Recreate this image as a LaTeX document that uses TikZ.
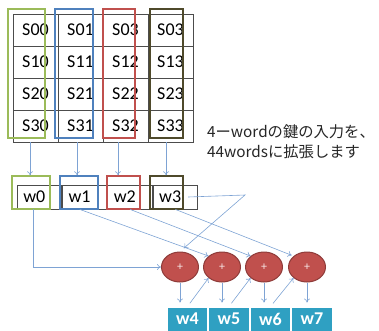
\documentclass[tikz,border=0pt]{standalone}
\usepackage{fontspec}
\usepackage{tikz}
\usetikzlibrary{matrix}
\usetikzlibrary{arrows.meta}
\usetikzlibrary{shapes.geometric}
\usetikzlibrary{positioning}
\newfontfamily\calfont{Carlito}
\newfontfamily\jpfont{Noto Sans CJK JP}
\definecolor{kgreen}{HTML}{9BBB59}
\definecolor{kblue}{HTML}{4F81BD}
\definecolor{kred}{HTML}{C0504D}
\definecolor{kolive}{HTML}{4F4A2B}
\definecolor{klink}{HTML}{7EA3D4}
\definecolor{kteal}{HTML}{2FA0C2}
\definecolor{kdark}{HTML}{8E3B39}

\begin{document}
\begin{tikzpicture}[x=1pt,y=-1pt,
			every node/.style={font=\calfont\fontsize{18}{18}\selectfont},
			colframe/.style={draw=#1,line width=1.5pt,minimum height=129pt,inner sep=0pt},
			wcell/.style={draw=black!70,line width=0.8pt,minimum height=24pt,text width=32.5pt,inner xsep=6pt,inner ysep=0pt,align=left},
			wframe/.style={draw=#1,line width=1.5pt,minimum height=33pt,inner sep=0pt},
			adder/.style={ellipse,draw=kdark,line width=1pt,fill=kred,minimum width=37pt,minimum height=30pt,inner sep=0pt,text=white!85!kred,font=\calfont\fontsize{12}{12}\selectfont},
			outcell/.style={draw=white,line width=1pt,fill=kteal,minimum width=40.5pt,minimum height=24pt,inner sep=0pt,text=white,font=\calfont\bfseries\fontsize{18}{18}\selectfont},
			link/.style={draw=klink,line width=0.6pt,-{To[length=4pt,width=6pt]}}]
			\useasboundingbox (0,0) rectangle (379,330);
			\matrix (m) [matrix of nodes,
			nodes={draw=black!70,line width=0.8pt,minimum width=45pt,minimum height=32pt,inner sep=0pt},
			column sep=-0.8pt,row sep=-0.8pt,inner sep=0pt
			%nodes=draw
			] at (103,78)
			{
				S00 & S01 & S03 & S03 \\
				S10 & S11 & S12 & S13 \\
				S20 & S21 & S22 & S23 \\
				S30 & S31 & S32 & S33 \\
			};
			\node[colframe=kgreen,minimum width=37pt] (g0) at (26.5,73.5) {};
			\node[colframe=kblue,minimum width=38pt] (g1) at (74,73.5) {};
			\node[colframe=kred,minimum width=32pt] (g2) at (119,73.5) {};
			\node[colframe=kolive,minimum width=33pt] (g3) at (166.5,73.5) {};
			
			\node[font=\jpfont\fontsize{15.3}{19.5}\selectfont,text=black!85,anchor=west,align=left,inner sep=0pt] (note) at (207,141.5) {4ーwordの鍵の入力を、\\44wordsに拡張します};
			
			\node[wcell] (w0) at (39.5,197) {w0};
			\node[wcell,right=0pt of w0] (w1) {w1};
			\node[wcell,right=0pt of w1] (w2) {w2};
			\node[wcell,right=0pt of w2] (w3) {w3};
			\node[wframe=kgreen,minimum width=38pt] (f0) at (31,192.5) {};
			\node[wframe=kblue,minimum width=38pt] (f1) at (79,192.5) {};
			\node[wframe=kred,minimum width=33pt] (f2) at (123.5,192.5) {};
			\node[wframe=kolive,minimum width=33pt] (f3) at (166.5,192.5) {};
			
			\foreach \i/\x in {0/30,1/77,2/118,3/166}
				\coordinate (d\i) at (\x,142);
			\foreach \i in {0,...,3}
				\draw[link] (d\i) -- (d\i |- f\i.north);
			
			\node[adder] (p1) at (180,267) {+};
			\node[adder] (p2) at (222,267) {+};
			\node[adder] (p3) at (264,267) {+};
			\node[adder] (p4) at (307,267) {+};
			
			\node[outcell] (b4) at (187.5,319) {w4};
			\node[outcell,right=0pt of b4] (b5) {w5};
			\node[outcell,right=0pt of b5] (b6) {w6};
			\node[outcell,right=0pt of b6] (b7) {w7};
			
			\draw[link] ([xshift=-6pt]w0.south) |- (p1.west);
			\draw[link] ([xshift=-5pt]w1.south) -- (p2.north west);
			\draw[link] (w2.south) -- (p3.north west);
			\draw[link,shorten >=2pt] (w3.south) -- (p4.north west);
			\coordinate (k) at (245,195);
			\draw[link,shorten >=5pt] ([xshift=-10pt]w3.east) -- (k) -- (p1.north);
			
			\foreach \i/\j in {1/4,2/5,3/6,4/7}
				\draw[link,shorten >=4pt] (p\i.south) -- (p\i.south |- b\j.north);
			\foreach \j/\i in {4/2,5/3,6/4}
				\draw[link,shorten <=4pt] (b\j.north) -- (p\i.south west);
		\end{tikzpicture}
\end{document}
